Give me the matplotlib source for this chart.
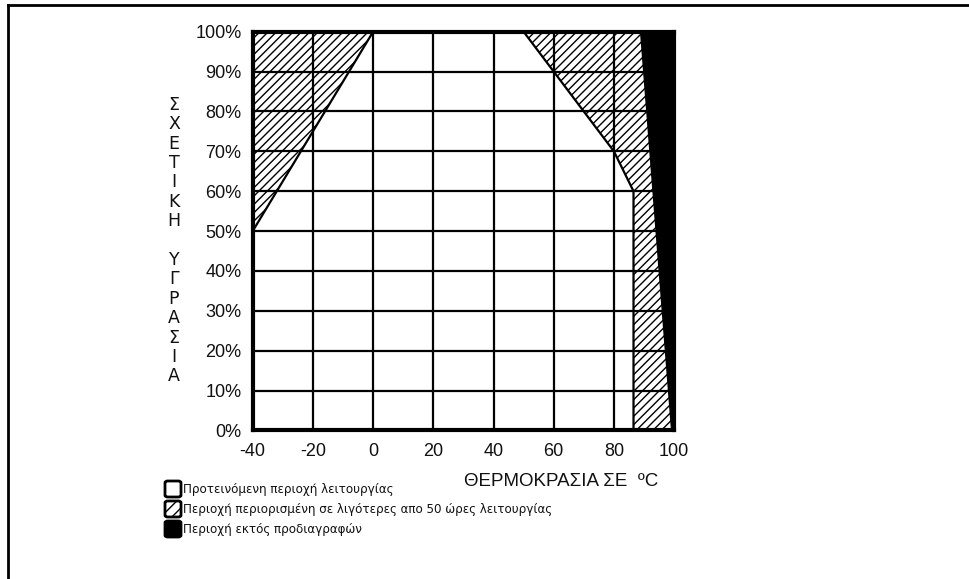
import matplotlib
matplotlib.use("Agg")
import matplotlib.pyplot as plt
from matplotlib.patches import Polygon, FancyBboxPatch
from matplotlib.lines import Line2D

# axis ticks
temp_ticks = [-40, -20, 0, 20, 40, 60, 80, 100]
rh_ticks = [0, 10, 20, 30, 40, 50, 60, 70, 80, 90, 100]

# limited operation zone (hatched), cold side
cold_t = [-40, 0, -40]
cold_rh = [50, 100, 100]

# limited operation zone (hatched), hot side
hot_t = [50, 60, 80, 86.5, 86.5, 99.3, 89]
hot_rh = [100, 90, 70, 60, 0, 0, 100]

# out of spec zone (black)
out_t = [89, 100, 100, 99.3]
out_rh = [100, 100, 0, 0]

legend_labels = ["Προτεινόμενη περιοχή λειτουργίας",
                 "Περιοχή περιορισμένη σε λιγότερες απο 50 ώρες λειτουργίας",
                 "Περιοχή εκτός προδιαγραφών"]

plt.rcParams['hatch.linewidth'] = 1.0

fig = plt.figure(figsize=(9.7, 5.79), dpi=100)
ax = fig.add_axes([0.2605, 0.2565, 0.4345, 0.6887])

ax.set_xlim(-40, 100)
ax.set_ylim(0, 100)

# grid
for t in temp_ticks[1:-1]:
    ax.axvline(t, color='black', lw=1.6, zorder=2)
for r in rh_ticks[1:-1]:
    ax.axhline(r, color='black', lw=1.6, zorder=2)

ax.add_patch(Polygon(list(zip(cold_t, cold_rh)), closed=True, facecolor='white',
                     edgecolor='black', hatch='////', lw=1.6, zorder=1))
ax.add_patch(Polygon(list(zip(hot_t, hot_rh)), closed=True, facecolor='white',
                     edgecolor='black', hatch='////', lw=1.6, zorder=1))
ax.add_patch(Polygon(list(zip(out_t, out_rh)), closed=True, facecolor='black',
                     edgecolor='black', lw=1, zorder=3))

for s in ax.spines.values():
    s.set_linewidth(3)
    s.set_zorder(5)

ax.set_xticks(temp_ticks)
ax.set_xticklabels([str(t) for t in temp_ticks])
ax.set_yticks(rh_ticks)
ax.set_yticklabels([f"{r}%" for r in rh_ticks])
ax.tick_params(length=0, labelsize=13, colors='#111111')
for lab in ax.get_xticklabels() + ax.get_yticklabels():
    lab.set_family('Liberation Sans')
ax.tick_params(axis='x', pad=9)
ax.tick_params(axis='y', pad=8)

# vertical y label
fig.text(174 / 970, 1 - 240.5 / 579, "\n".join("ΣΧΕΤΙΚΗ") + "\n\n" + "\n".join("ΥΓΡΑΣΙΑ"),
         ha='center', va='center', fontsize=12.5, linespacing=1.1,
         family='DejaVu Sans', color='#111111')

# x label
fig.text(464 / 970, 1 - 482 / 579, "ΘΕΡΜΟΚΡΑΣΙΑ ΣΕ  ºC", ha='left', va='center',
         fontsize=13.5, family='Liberation Sans', color='#111111')

# legend
styles = [dict(facecolor='white', hatch=None), dict(facecolor='white', hatch='///'),
          dict(facecolor='black', hatch=None)]
rows_y = [489, 509, 529]
for lab, st, yy in zip(legend_labels, styles, rows_y):
    y0 = 1 - (yy + 8) / 579
    box = FancyBboxPatch((165 / 970, y0), 16 / 970, 16 / 579,
                         boxstyle="round,pad=0,rounding_size=0.003",
                         transform=fig.transFigure, facecolor=st['facecolor'],
                         edgecolor='black', lw=2, hatch=st['hatch'])
    fig.patches.append(box)
    fig.text(183 / 970, 1 - yy / 579, lab, ha='left', va='center', fontsize=8.6,
             family='DejaVu Sans', color='#111111')

# outer frame (top and left lines)
fig.add_artist(Line2D([8 / 970, 1], [1 - 5 / 579, 1 - 5 / 579], color='black', lw=2,
                      transform=fig.transFigure))
fig.add_artist(Line2D([8 / 970, 8 / 970], [0, 1 - 5 / 579], color='black', lw=2,
                      transform=fig.transFigure))

fig.savefig("out.png", dpi=100, facecolor='white')
